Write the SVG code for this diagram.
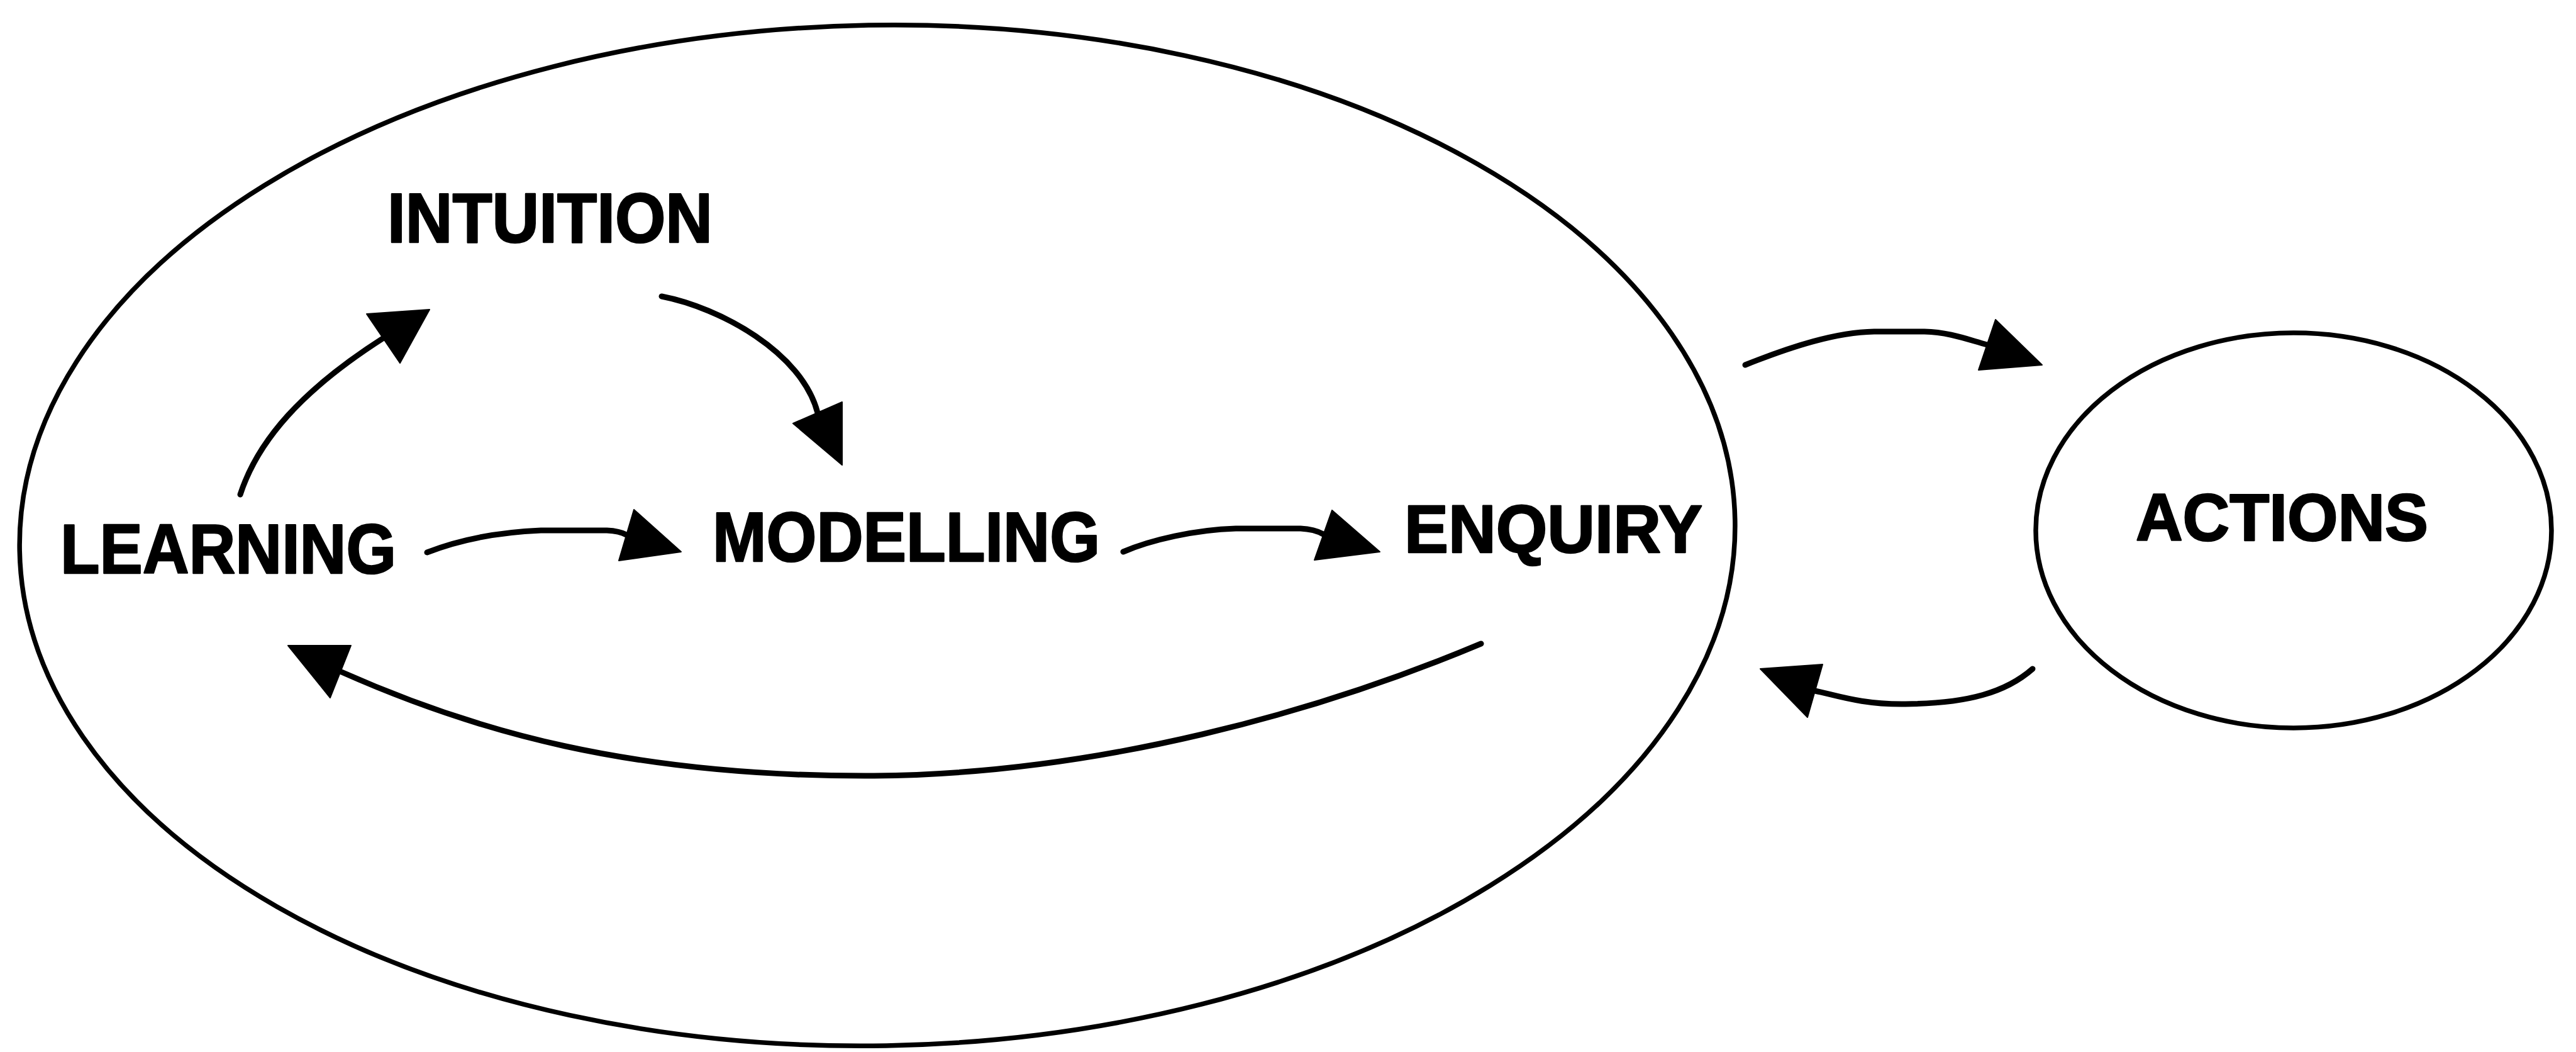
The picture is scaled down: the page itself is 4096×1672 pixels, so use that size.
<svg xmlns="http://www.w3.org/2000/svg" width="4096" height="1672" viewBox="0 0 4096 1672">
  <style>
    .ring { fill: none; stroke: #000; stroke-width: 7.5; }
    .label { font-family: "Liberation Sans", Arial, Helvetica, sans-serif; font-weight: bold; fill: #000; stroke: #000; stroke-width: 2.5; stroke-linejoin: round; }
    .wire { fill: none; stroke: #000; stroke-width: 9; stroke-linecap: round; stroke-linejoin: round; }
    .head { fill: #000; stroke: #000; stroke-width: 2; stroke-linejoin: round; }
  </style>
  <rect width="4096" height="1672" fill="#fff"/>

  <!-- Large enclosing ellipse around the inner cycle -->
  <g id="cycle">
    <ellipse class="ring" cx="1395" cy="851" rx="1364" ry="811" transform="rotate(-1 1395 851)"/>
  </g>

  <g id="intuition">
    <text class="label" x="616" y="385" font-size="112" textLength="517" lengthAdjust="spacingAndGlyphs">INTUITION</text>
  </g>
  <g id="learning">
    <text class="label" x="96" y="911" font-size="112" textLength="534" lengthAdjust="spacingAndGlyphs">LEARNING</text>
  </g>
  <g id="modelling">
    <text class="label" x="1133" y="892" font-size="112" textLength="616" lengthAdjust="spacingAndGlyphs">MODELLING</text>
  </g>
  <g id="enquiry">
    <text class="label" x="2233" y="878" font-size="108" textLength="474" lengthAdjust="spacingAndGlyphs">ENQUIRY</text>
  </g>
  <g id="actions">
    <ellipse class="ring" cx="3647" cy="843" rx="410" ry="314"/>
    <text class="label" x="3396" y="859" font-size="105" textLength="465" lengthAdjust="spacingAndGlyphs">ACTIONS</text>
  </g>

  <g id="connectors">
    <!-- learning to intuition -->
    <path class="wire" d="M382,786 C410,700 480,620 610,537"/>
    <polygon class="head" points="583,499 683,492 636,577"/>

    <!-- intuition to modelling -->
    <path class="wire" d="M1052,471 C1145,489 1275,560 1300,656"/>
    <polygon class="head" points="1339,639 1261,673 1339,739"/>

    <!-- learning to modelling -->
    <path class="wire" d="M679,878 C730,858 790,846 860,843 L965,843 Q985,844 996,850"/>
    <polygon class="head" points="1008,810 984,891 1083,877"/>

    <!-- modelling to enquiry -->
    <path class="wire" d="M1786,877 C1830,858 1900,842 1965,840 L2068,840 Q2090,841 2104,849"/>
    <polygon class="head" points="2118,811 2090,890 2194,877"/>

    <!-- enquiry back to learning -->
    <path class="wire" d="M2355,1023 C2100,1130 1750,1230 1390,1233 C1000,1235 750,1160 543,1068"/>
    <polygon class="head" points="458,1026 558,1026 525,1109"/>

    <!-- cycle out to actions -->
    <path class="wire" d="M2775,580 C2850,550 2920,528 2980,527 L3060,527 C3100,528 3130,540 3160,548"/>
    <polygon class="head" points="3173,508 3146,588 3247,580"/>

    <!-- actions back to cycle -->
    <path class="wire" d="M3232,1063 C3190,1100 3130,1118 3030,1119 C2960,1120 2920,1105 2886,1098"/>
    <polygon class="head" points="2799,1063 2898,1056 2874,1140"/>
  </g>
</svg>
